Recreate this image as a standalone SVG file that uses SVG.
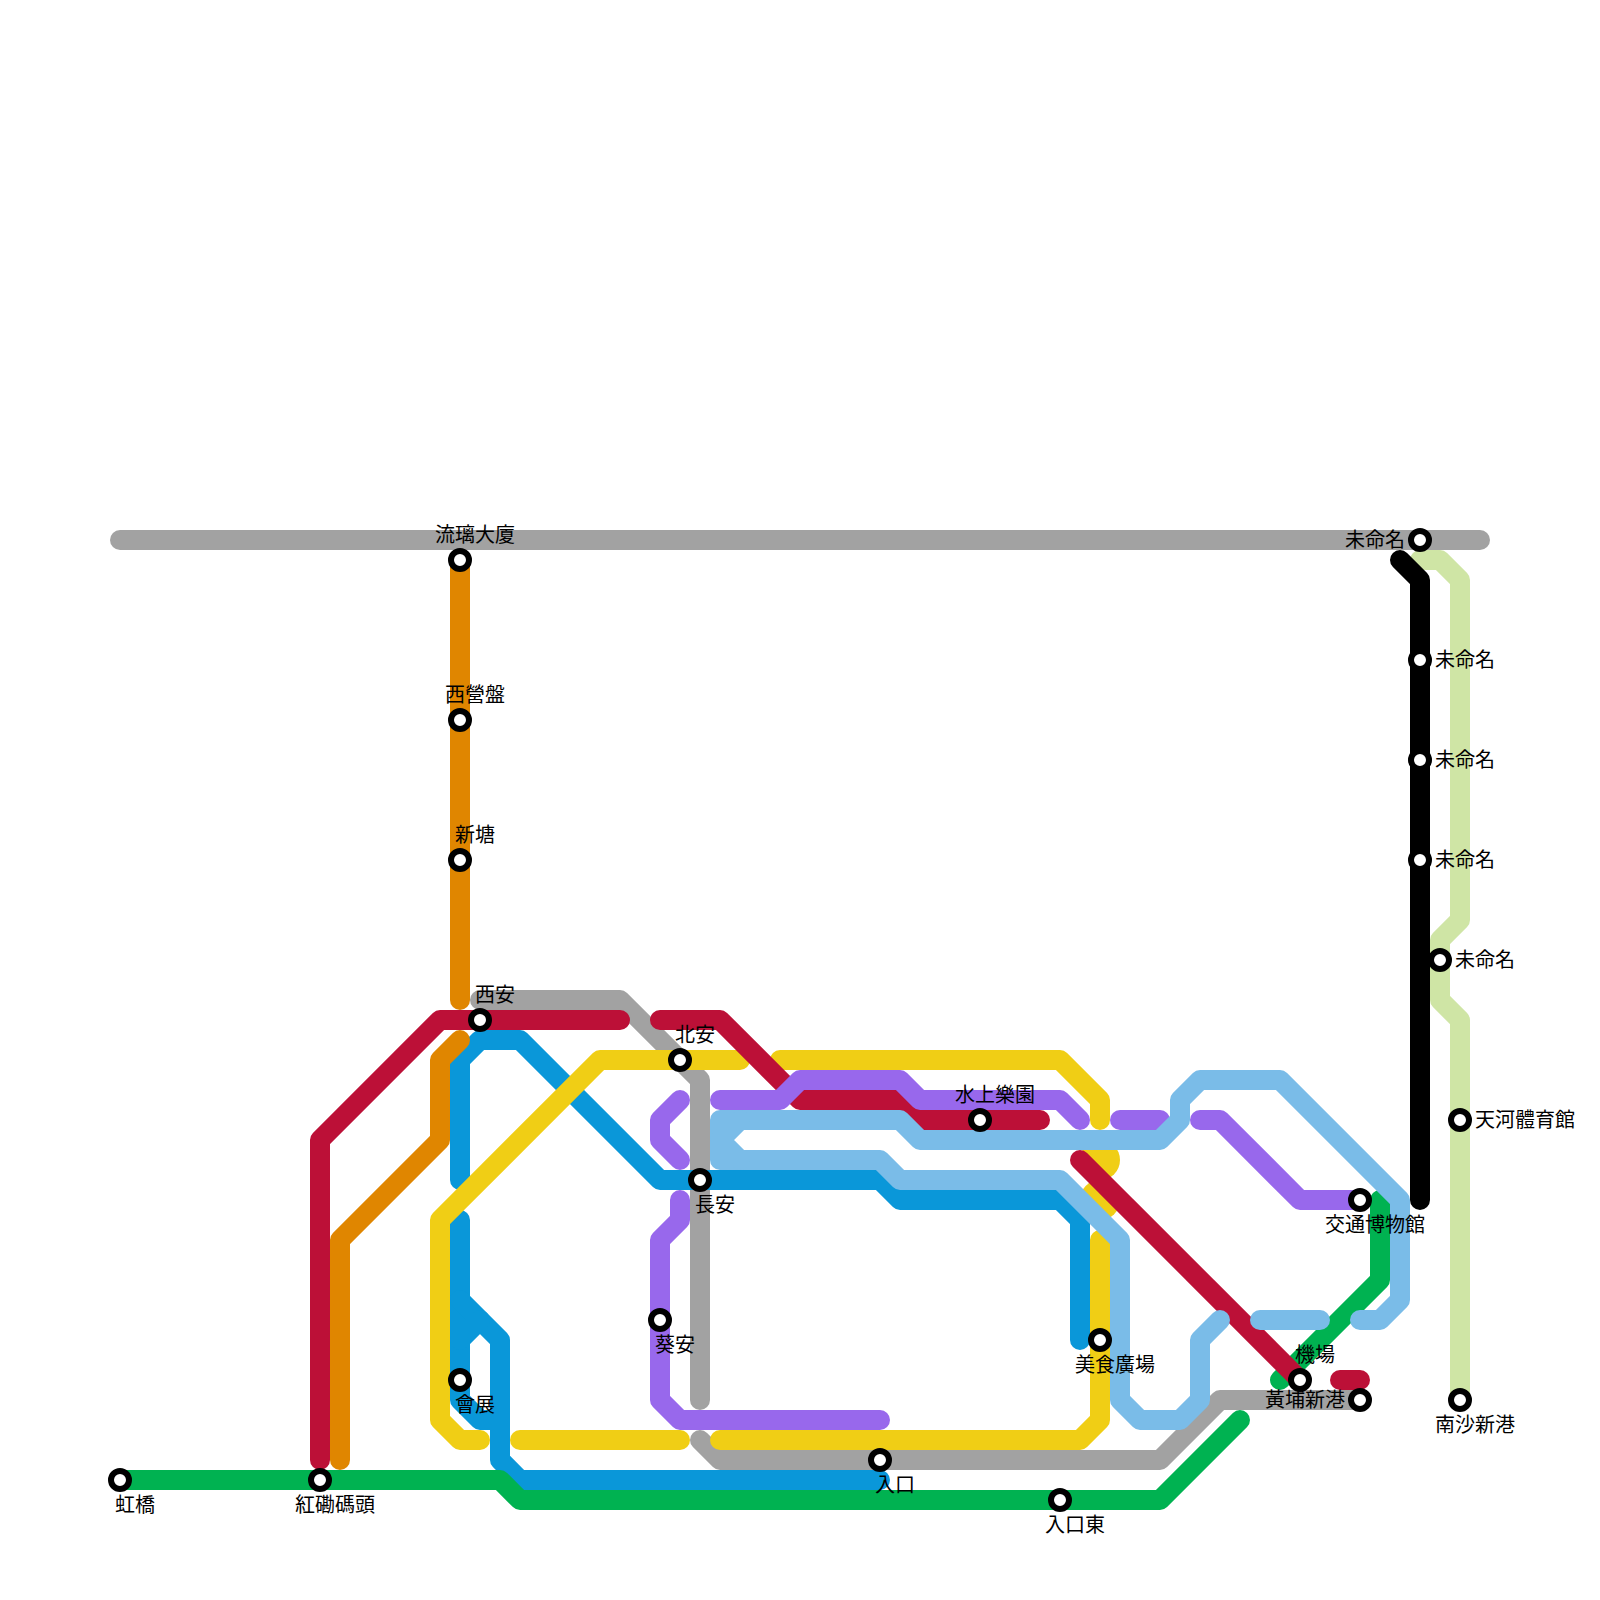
<svg xmlns="http://www.w3.org/2000/svg" width="1600" height="1600" viewBox="0 0 1600 1600">
<style>
.l{fill:none;stroke-width:20;stroke-linecap:round;stroke-linejoin:round}
.gray{stroke:#a2a2a2}.pale{stroke:#cfe5a5}.black{stroke:#000}.blue{stroke:#0a97d9}.green{stroke:#00b251}.orange{stroke:#e08600}.yellow{stroke:#f0ce15}.red{stroke:#bc1037}.purple{stroke:#9868ec}.sky{stroke:#7abce8}
.yf{fill:#f0ce15}
.s{fill:#fff;stroke:#000;stroke-width:6}
text{font-family:"Liberation Sans","Noto Sans CJK JP",sans-serif;font-size:20px;fill:#000}
.m{text-anchor:middle}.e{text-anchor:end}
</style>
<rect width="1600" height="1600" fill="#fff"/>
<g id="connectors" class="l">
<path class="l gray" d="M120 540H1480"/>
<path class="l gray" d="M480 1000H620L700 1080V1400"/>
<path class="l gray" d="M700 1440L720 1460H1160L1220 1400H1360"/>
<path class="l pale" d="M1420 560H1440L1460 580V920L1440 940V1000L1460 1020V1400"/>
<path class="l black" d="M1400 560L1420 580V1200"/>
<path class="l blue" d="M460 1180V1060L480 1040H520L660 1180H880L900 1200H1060L1080 1220V1340"/>
<path class="l blue" d="M460 1220V1400L480 1420H500"/>
<path class="l blue" d="M460 1300L500 1340V1460L520 1480H880"/>
<path class="l blue" d="M460 1340L480 1320"/>
<path class="l green" d="M120 1480H500L520 1500H1160L1240 1420"/>
<path class="l green" d="M1280 1380L1380 1280V1200"/>
<path class="l orange" d="M460 560V1000"/>
<path class="l orange" d="M460 1040L440 1060V1140L340 1240V1460"/>
<path class="l yellow" d="M740 1060H600L440 1220V1420L460 1440H480"/>
<path class="l yellow" d="M520 1440H680"/>
<path class="l yellow" d="M720 1440H1080L1100 1420V1240"/>
<path class="l yellow" d="M780 1060H1060L1100 1100V1120"/>
<circle class="yf" stroke="none" cx="1100" cy="1160" r="20"/>
<circle class="yf" stroke="none" cx="1100" cy="1200" r="20"/>
<path class="l red" d="M320 1460V1140L440 1020H620"/>
<path class="l red" d="M660 1020H720L800 1100H900L920 1120H1040"/>
<path class="l red" d="M1080 1160L1300 1380"/>
<path class="l red" d="M1340 1380H1360"/>
<path class="l purple" d="M720 1100H780L800 1080H900L920 1100H1060L1080 1120"/>
<path class="l purple" d="M680 1100L660 1120V1140L680 1160"/>
<path class="l purple" d="M680 1200V1220L660 1240V1400L680 1420H880"/>
<path class="l purple" d="M1120 1120H1160"/>
<path class="l purple" d="M1200 1120H1220L1300 1200H1360"/>
<path class="l sky" d="M1360 1320H1380L1400 1300V1200L1280 1080H1200L1180 1100V1120L1160 1140H920L900 1120H720V1160H880L900 1180H1060L1120 1240V1400L1140 1420H1180L1200 1400V1340L1220 1320"/>
<path class="l sky" d="M740 1120L720 1140L740 1160"/>
<path class="l sky" d="M1260 1320H1320"/>
</g>
<g id="st-hongqiao"><circle class="s" cx="120" cy="1480" r="9"/><text class="m" x="135" y="1512">虹橋</text></g>
<g id="st-hunghom"><circle class="s" cx="320" cy="1480" r="9"/><text class="m" x="335" y="1512">紅磡碼頭</text></g>
<g id="st-liuli"><circle class="s" cx="460" cy="560" r="9"/><text class="m" x="475" y="542">流璃大廈</text></g>
<g id="st-xiyingpan"><circle class="s" cx="460" cy="720" r="9"/><text class="m" x="475" y="702">西營盤</text></g>
<g id="st-xintang"><circle class="s" cx="460" cy="860" r="9"/><text class="m" x="475" y="842">新塘</text></g>
<g id="st-xian"><circle class="s" cx="480" cy="1020" r="9"/><text class="m" x="495" y="1002">西安</text></g>
<g id="st-huizhan"><circle class="s" cx="460" cy="1380" r="9"/><text class="m" x="475" y="1412">會展</text></g>
<g id="st-beian"><circle class="s" cx="680" cy="1060" r="9"/><text class="m" x="695" y="1042">北安</text></g>
<g id="st-changan"><circle class="s" cx="700" cy="1180" r="9"/><text class="m" x="715" y="1212">長安</text></g>
<g id="st-kuian"><circle class="s" cx="660" cy="1320" r="9"/><text class="m" x="675" y="1352">葵安</text></g>
<g id="st-rukou"><circle class="s" cx="880" cy="1460" r="9"/><text class="m" x="895" y="1492">入口</text></g>
<g id="st-rukoudong"><circle class="s" cx="1060" cy="1500" r="9"/><text class="m" x="1075" y="1532">入口東</text></g>
<g id="st-shuishang"><circle class="s" cx="980" cy="1120" r="9"/><text class="m" x="995" y="1102">水上樂園</text></g>
<g id="st-meishi"><circle class="s" cx="1100" cy="1340" r="9"/><text class="m" x="1115" y="1372">美食廣場</text></g>
<g id="st-jiaotong"><circle class="s" cx="1360" cy="1200" r="9"/><text class="m" x="1375" y="1232">交通博物館</text></g>
<g id="st-jichang"><circle class="s" cx="1300" cy="1380" r="9"/><text class="m" x="1315" y="1362">機場</text></g>
<g id="st-huangpu"><circle class="s" cx="1360" cy="1400" r="9"/><text class="e" x="1345" y="1407">黃埔新港</text></g>
<g id="st-un1"><circle class="s" cx="1420" cy="540" r="9"/><text class="e" x="1405" y="547">未命名</text></g>
<g id="st-un2"><circle class="s" cx="1420" cy="660" r="9"/><text x="1435" y="667">未命名</text></g>
<g id="st-un3"><circle class="s" cx="1420" cy="760" r="9"/><text x="1435" y="767">未命名</text></g>
<g id="st-un4"><circle class="s" cx="1420" cy="860" r="9"/><text x="1435" y="867">未命名</text></g>
<g id="st-un5"><circle class="s" cx="1440" cy="960" r="9"/><text x="1455" y="967">未命名</text></g>
<g id="st-tianhe"><circle class="s" cx="1460" cy="1120" r="9"/><text x="1475" y="1127">天河體育館</text></g>
<g id="st-nansha"><circle class="s" cx="1460" cy="1400" r="9"/><text class="m" x="1475" y="1432">南沙新港</text></g>
</svg>
